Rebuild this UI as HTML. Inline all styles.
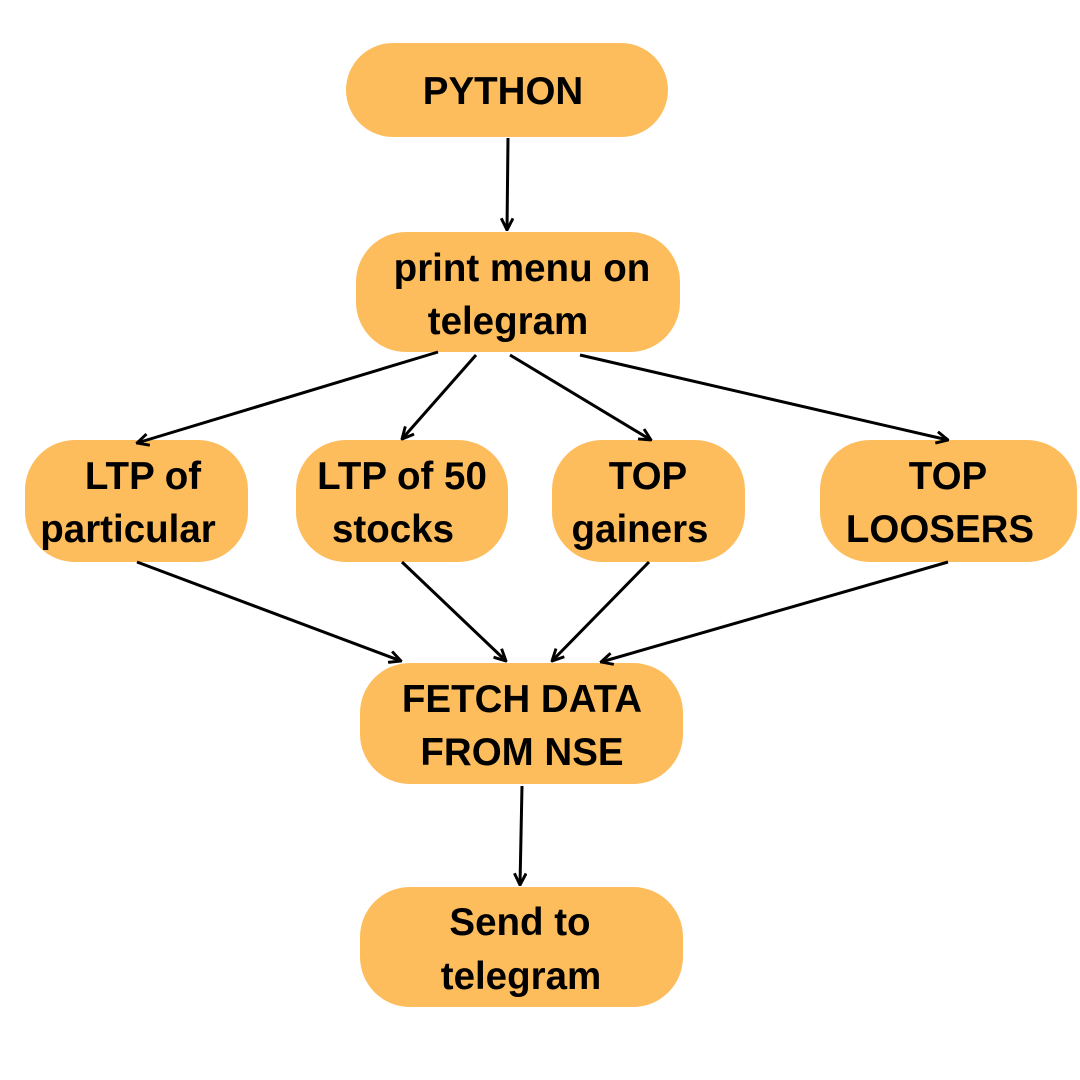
<!DOCTYPE html>
<html><head><style>html,body{margin:0;padding:0;background:#fff}svg{display:block}</style></head>
<body>
<svg width="1080" height="1080" viewBox="0 0 1080 1080" xmlns="http://www.w3.org/2000/svg">
<defs>
<marker id="a" viewBox="0 0 12 12" refX="11" refY="6" markerWidth="14" markerHeight="14" markerUnits="userSpaceOnUse" orient="auto">
<path d="M1,1 L11,6 L1,11" fill="none" stroke="#000" stroke-width="2.5"/>
</marker>
</defs>
<g fill="#FDBD5C">
<rect x="346" y="43" width="322" height="94" rx="47"/>
<rect x="356" y="232" width="324" height="120" rx="50"/>
<rect x="25" y="440" width="223" height="122" rx="50"/>
<rect x="296" y="440" width="212" height="122" rx="50"/>
<rect x="552" y="440" width="193" height="122" rx="50"/>
<rect x="820" y="440" width="257" height="122" rx="50"/>
<rect x="360" y="663" width="323" height="121" rx="50"/>
<rect x="360" y="887" width="323" height="120" rx="50"/>
</g>
<g stroke="#000" stroke-width="3" marker-end="url(#a)">
<line x1="508" y1="138" x2="507" y2="230"/>
<line x1="438" y1="352" x2="137" y2="443"/>
<line x1="476" y1="355" x2="402" y2="439"/>
<line x1="510" y1="355" x2="651" y2="440"/>
<line x1="580" y1="355" x2="948" y2="440"/>
<line x1="137" y1="562" x2="401" y2="661"/>
<line x1="402" y1="562" x2="506" y2="661"/>
<line x1="649" y1="562" x2="552" y2="661"/>
<line x1="948" y1="562" x2="601" y2="662"/>
<line x1="522" y1="786" x2="520" y2="885"/>
</g>
<g font-family="Liberation Sans, sans-serif" font-weight="bold" font-size="38.5" text-anchor="middle" fill="#000">
<text x="503" y="104">PYTHON</text>
<text x="522" y="281">print menu on</text>
<text x="508" y="334">telegram</text>
<text x="143" y="489">LTP of</text>
<text x="128" y="542">particular</text>
<text x="402" y="489">LTP of 50</text>
<text x="393" y="542">stocks</text>
<text x="648" y="489">TOP</text>
<text x="640" y="542">gainers</text>
<text x="948" y="489">TOP</text>
<text x="940" y="542">LOOSERS</text>
<text x="522" y="712">FETCH DATA</text>
<text x="522" y="765">FROM NSE</text>
<text x="520" y="935">Send to</text>
<text x="521" y="989">telegram</text>
</g>
</svg>
</body></html>
